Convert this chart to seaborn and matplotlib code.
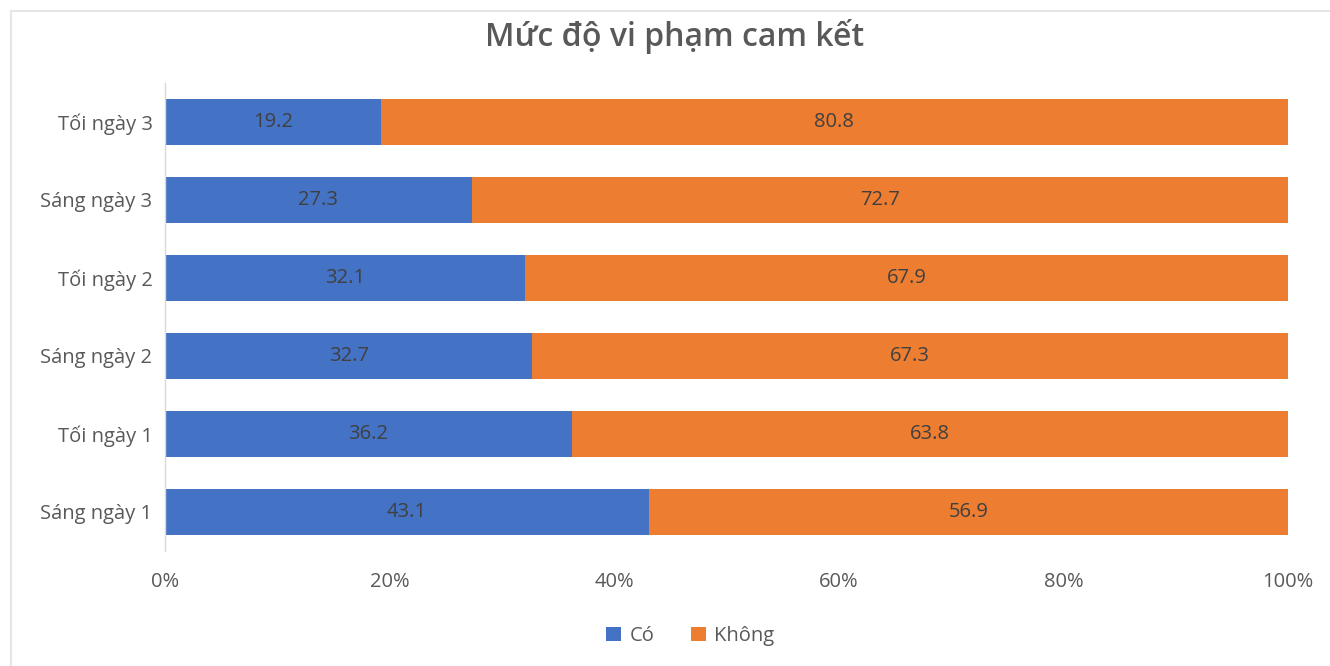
import matplotlib
matplotlib.use("Agg")
import matplotlib.pyplot as plt
import seaborn as sns
import pandas as pd
from matplotlib.patches import Patch
from matplotlib.lines import Line2D

# Categories listed from top bar to bottom bar
categories = ["Tối ngày 3", "Sáng ngày 3", "Tối ngày 2", "Sáng ngày 2", "Tối ngày 1", "Sáng ngày 1"]
co_values = [19.2, 27.3, 32.1, 32.7, 36.2, 43.1]
khong_values = [80.8, 72.7, 67.9, 67.3, 63.8, 56.9]
x_ticks = [0, 20, 40, 60, 80, 100]
x_tick_labels = ["0%", "20%", "40%", "60%", "80%", "100%"]

title = "Mức độ vi phạm cam kết"
series_names = ["Có", "Không"]

BLUE = "#4472C4"
ORANGE = "#ED7D31"
TEXT = "#595959"
LABEL = "#404040"

sns.set_theme(style="white")
plt.rcParams["font.family"] = ["Open Sans", "DejaVu Sans"]

df = pd.DataFrame({"cat": categories, "co": co_values, "khong": khong_values})
df["total"] = df["co"] + df["khong"]

fig = plt.figure(figsize=(13.3, 6.66), dpi=100)
ax = fig.add_axes([165 / 1330, 1 - 551 / 666, (1288 - 165) / 1330, 468 / 666])

# Stacked bars: full length (Có + Không) in orange, Có overlaid in blue
sns.barplot(data=df, x="total", y="cat", order=categories, color=ORANGE,
            width=0.58, saturation=1, ax=ax, orient="h")
sns.barplot(data=df, x="co", y="cat", order=categories, color=BLUE,
            width=0.58, saturation=1, ax=ax, orient="h")
for p in ax.patches:
    p.set_linewidth(0)

for i, (c, k) in enumerate(zip(co_values, khong_values)):
    ax.text(c / 2, i, f"{c:.1f}", ha="center", va="center", fontsize=14.5, color=LABEL)
    ax.text(c + k / 2, i, f"{k:.1f}", ha="center", va="center", fontsize=14.5, color=LABEL)

ax.set_xlim(0, 100)
ax.set_ylim(5.5, -0.5)
ax.set_xticks(x_ticks)
ax.set_xticklabels(x_tick_labels)
ax.set_xlabel("")
ax.set_ylabel("")
ax.tick_params(axis="x", length=0, pad=15, labelsize=14.5, labelcolor=TEXT)
ax.tick_params(axis="y", length=0, pad=9, labelsize=14.5, labelcolor=TEXT)
for side in ["top", "right", "bottom"]:
    ax.spines[side].set_visible(False)
ax.spines["left"].set_color("#D9D9D9")
ax.spines["left"].set_linewidth(1)

fig.text(675 / 1330, 1 - 37 / 666, title, ha="center", va="center",
         fontsize=23, fontweight="semibold", color=TEXT)

handles = [Patch(facecolor=BLUE, edgecolor="none"), Patch(facecolor=ORANGE, edgecolor="none")]
fig.legend(handles, series_names, loc="center", bbox_to_anchor=(690 / 1330, 1 - 636 / 666),
           ncol=2, frameon=False, fontsize=14.5, labelcolor=TEXT,
           handlelength=0.75, handleheight=0.75, handletextpad=0.4, columnspacing=1.8)

# Chart frame edges
fig.add_artist(Line2D([11 / 1330, 1], [1 - 11 / 666, 1 - 11 / 666], color="#E6E6E6", lw=1.5))
fig.add_artist(Line2D([11 / 1330, 11 / 1330], [0, 1 - 11 / 666], color="#E6E6E6", lw=1.5))

fig.savefig("out.png", dpi=100)
